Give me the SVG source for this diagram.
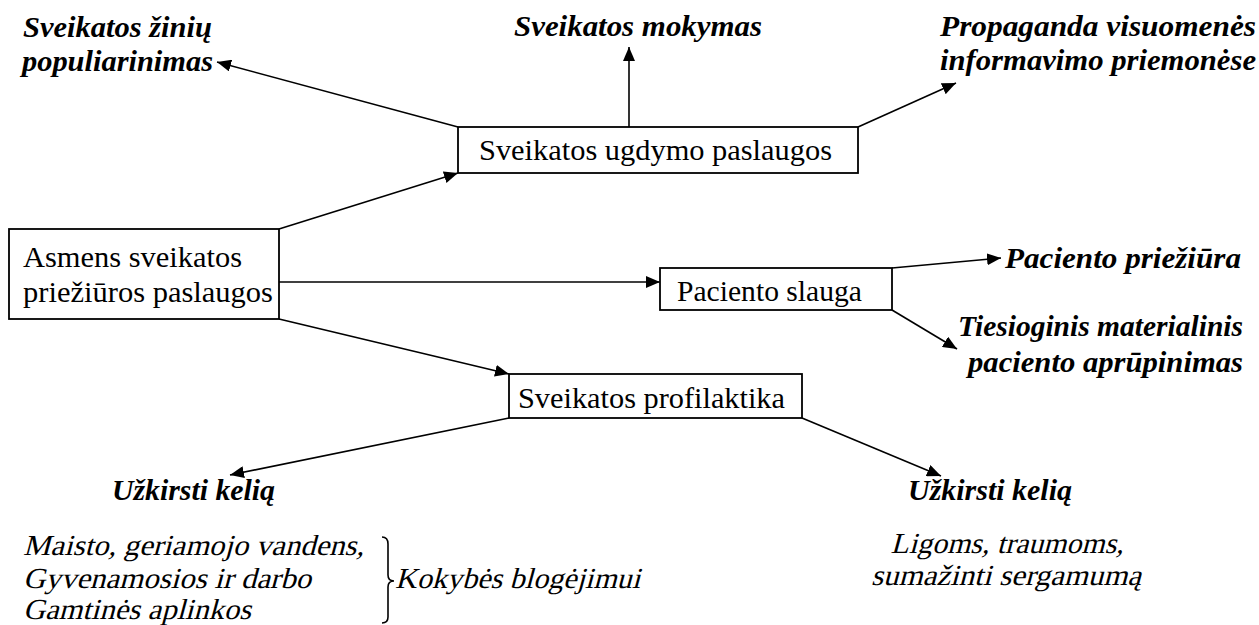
<svg xmlns="http://www.w3.org/2000/svg" width="1259" height="625" viewBox="0 0 1259 625">
<defs>
<marker id="arr" markerUnits="userSpaceOnUse" markerWidth="16" markerHeight="12" refX="14" refY="6" orient="auto">
<path d="M0,0 L14,6 L0,12 Z" fill="#000"/>
</marker>
</defs>
<style>
.box{fill:#fff;stroke:#000;stroke-width:1.8}
.ln{fill:none;stroke:#000;stroke-width:1.6}
text{font-family:'Liberation Serif','Times New Roman',serif;font-size:29px;fill:#000}
.bi{font-weight:bold;font-style:italic}
</style>
<rect width="1259" height="625" fill="#fff"/>
<g id="connectors">
<line class="ln" x1="458" y1="127" x2="217" y2="62" marker-end="url(#arr)"/>
<line class="ln" x1="629" y1="127" x2="629" y2="47" marker-end="url(#arr)"/>
<line class="ln" x1="858" y1="127" x2="956" y2="83" marker-end="url(#arr)"/>
<line class="ln" x1="279" y1="229" x2="458" y2="173" marker-end="url(#arr)"/>
<line class="ln" x1="279" y1="282" x2="660" y2="282" marker-end="url(#arr)"/>
<line class="ln" x1="279" y1="319" x2="509" y2="374" marker-end="url(#arr)"/>
<line class="ln" x1="892" y1="268" x2="1001" y2="258" marker-end="url(#arr)"/>
<line class="ln" x1="892" y1="310" x2="957" y2="349" marker-end="url(#arr)"/>
<line class="ln" x1="509" y1="418" x2="230" y2="475" marker-end="url(#arr)"/>
<line class="ln" x1="802" y1="418" x2="941" y2="476" marker-end="url(#arr)"/>
</g>
<g id="n-zinios">
<text class="bi" x="23" y="37" textLength="189" lengthAdjust="spacingAndGlyphs">Sveikatos žinių</text>
<text class="bi" x="22" y="71" textLength="191" lengthAdjust="spacingAndGlyphs">populiarinimas</text>
</g>
<g id="n-mokymas"><text class="bi" x="514" y="36" textLength="248" lengthAdjust="spacingAndGlyphs">Sveikatos mokymas</text></g>
<g id="n-propaganda">
<text class="bi" x="940" y="36" textLength="316" lengthAdjust="spacingAndGlyphs">Propaganda visuomenės</text>
<text class="bi" x="940" y="70" textLength="316" lengthAdjust="spacingAndGlyphs">informavimo priemonėse</text>
</g>
<g id="n-ugdymo"><rect class="box" x="458" y="127" width="400" height="46"/><text x="479" y="160" textLength="353" lengthAdjust="spacingAndGlyphs">Sveikatos ugdymo paslaugos</text></g>
<g id="n-asmens"><rect class="box" x="9" y="229" width="270" height="90"/><text x="23" y="267" textLength="219" lengthAdjust="spacingAndGlyphs">Asmens sveikatos</text><text x="23" y="302" textLength="250" lengthAdjust="spacingAndGlyphs">priežiūros paslaugos</text></g>
<g id="n-slauga"><rect class="box" x="660" y="268" width="232" height="42"/><text x="677" y="301" textLength="185" lengthAdjust="spacingAndGlyphs">Paciento slauga</text></g>
<g id="n-prieziura"><text class="bi" x="1005" y="268" textLength="236" lengthAdjust="spacingAndGlyphs">Paciento priežiūra</text></g>
<g id="n-tiesioginis">
<text class="bi" x="958" y="336" textLength="285" lengthAdjust="spacingAndGlyphs">Tiesioginis materialinis</text>
<text class="bi" x="968" y="372" textLength="275" lengthAdjust="spacingAndGlyphs">paciento aprūpinimas</text>
</g>
<g id="n-profilaktika"><rect class="box" x="509" y="374" width="293" height="44"/><text x="518" y="408" textLength="267" lengthAdjust="spacingAndGlyphs">Sveikatos profilaktika</text></g>
<g id="n-uzkirsti-l"><text class="bi" x="112" y="500" textLength="163" lengthAdjust="spacingAndGlyphs">Užkirsti kelią</text></g>
<g id="n-uzkirsti-r"><text class="bi" x="908" y="500" textLength="164" lengthAdjust="spacingAndGlyphs">Užkirsti kelią</text></g>
<g id="n-maisto">
<g transform="translate(23,555) skewX(-15)"><text textLength="341" lengthAdjust="spacingAndGlyphs">Maisto, geriamojo vandens,</text></g>
<g transform="translate(23,588) skewX(-15)"><text textLength="288" lengthAdjust="spacingAndGlyphs">Gyvenamosios ir darbo</text></g>
<g transform="translate(23,619) skewX(-15)"><text textLength="228" lengthAdjust="spacingAndGlyphs">Gamtinės aplinkos</text></g>
<path class="ln" d="M382,537 Q388,537 388,544 L388,575 Q388,581 394,581 Q388,581 388,587 L388,617 Q388,623 382,623" stroke-width="1.3"/>
<g transform="translate(395,588) skewX(-15)"><text textLength="245" lengthAdjust="spacingAndGlyphs">Kokybės blogėjimui</text></g>
</g>
<g id="n-ligoms">
<g transform="translate(1007,553) skewX(-15)"><text text-anchor="middle" textLength="233" lengthAdjust="spacingAndGlyphs">Ligoms, traumoms,</text></g>
<g transform="translate(1006,585) skewX(-15)"><text text-anchor="middle" textLength="270" lengthAdjust="spacingAndGlyphs">sumažinti sergamumą</text></g>
</g>
</svg>
